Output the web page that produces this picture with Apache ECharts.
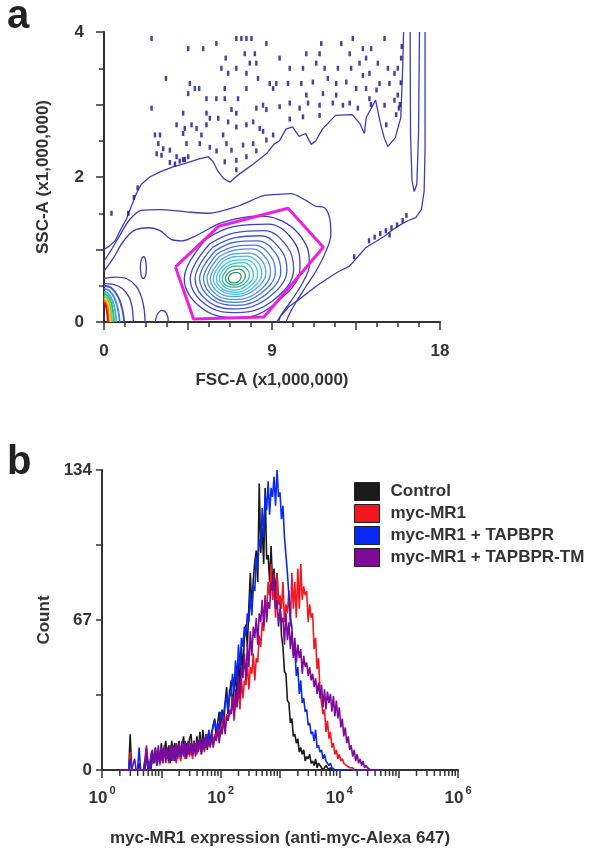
<!DOCTYPE html>
<html><head><meta charset="utf-8">
<script src="https://cdn.jsdelivr.net/npm/echarts@6/dist/echarts.min.js"></script>
<style>html,body{margin:0;padding:0;background:#fff}#c{width:600px;height:852px}</style>
</head><body><div id="c"></div>
<script>
// ---------- Panel a : FSC-A / SSC-A contour plot (units x1,000,000) ----------
const fscTickLabels = [0, 9, 18];
const sscTickLabels = [0, 2, 4];

const outerUpper = [[0,1.0],[0.3,1.05],[0.6,1.12],[0.9,1.28],[1.2,1.42],[1.5,1.62],[1.75,1.78],[2.0,1.9],[2.45,2.0],[3.0,2.07],[3.7,2.14],[4.4,2.19],[5.1,2.25],[5.6,2.28],[5.85,2.21],[6.1,2.08],[6.4,1.98],[6.75,1.93],[7.25,2.04],[8.0,2.18],[8.7,2.32],[9.1,2.45],[9.4,2.5],[9.75,2.66],[10.1,2.69],[10.45,2.56],[10.8,2.6],[11.1,2.45],[11.35,2.5],[11.7,2.66],[12.4,2.85],[13.3,2.86],[13.7,2.74],[13.95,2.6],[14.05,2.82],[14.55,3.06],[14.8,2.75],[15.0,2.55],[15.2,2.42],[15.6,2.54],[15.9,2.82],[16.0,3.5],[16.05,4.0]];
const outerRight = [[17.2,4.0],[17.2,2.4],[17.15,1.8],[17.0,1.55],[16.7,1.44],[16.3,1.4],[16.0,1.36],[15.5,1.28],[15.0,1.18],[14.5,1.1],[14.0,1.02],[13.6,0.9],[13.15,0.77],[12.6,0.7],[12.1,0.62],[11.4,0.5],[10.6,0.34],[9.9,0.21],[9.45,0.08],[9.25,0]];
const rightLoop = [[16.4,4.0],[16.42,2.6],[16.5,1.95],[16.62,1.8],[16.76,1.9],[16.85,2.6],[16.9,4.0]];
const contour2 = [[0,0.84],[0.4,1.0],[0.9,1.22],[1.4,1.42],[2.0,1.54],[3.0,1.55],[4.4,1.52],[5.6,1.5],[7.2,1.6],[8.5,1.74],[9.3,1.76],[10.0,1.77],[10.8,1.68],[11.3,1.6],[11.8,1.58],[12.1,1.42],[12.15,1.2],[11.85,0.95],[11.35,0.7],[10.85,0.5],[10.35,0.3],[9.95,0.12],[9.75,0]];
const contour3 = [[0,0.7],[0.5,0.88],[1.0,1.1],[1.6,1.26],[2.4,1.3],[3.0,1.26],[3.6,1.14],[4.2,1.12],[5.0,1.2],[6.2,1.36],[7.4,1.44],[8.4,1.46],[9.3,1.42],[10.2,1.28],[10.9,1.02],[11.0,0.78],[10.6,0.52],[10.0,0.28],[9.5,0.1],[9.35,0]];
const lowLeft2 = [[0,0.6],[0.6,0.62],[1.2,0.6],[1.7,0.5],[2.0,0.35],[2.15,0.18],[2.2,0]];
const lowLeft1 = [[0,0.53],[0.5,0.52],[1.0,0.46],[1.35,0.34],[1.52,0.18],[1.57,0]];
const smallOval = [[1.95,0.76],[2.0,0.86],[2.12,0.9],[2.24,0.84],[2.27,0.72],[2.2,0.62],[2.08,0.6],[1.98,0.66],[1.95,0.76]];
const smallBump = [[2.75,0],[2.85,0.1],[3.1,0.16],[3.35,0.12],[3.45,0]];
// origin cluster, outer -> inner
const originArcs = [
  [[0,0.5],[0.4,0.47],[0.75,0.35],[0.98,0.18],[1.08,0]],
  [[0,0.46],[0.3,0.43],[0.58,0.32],[0.76,0.16],[0.84,0]],
  [[0,0.42],[0.24,0.39],[0.46,0.29],[0.6,0.15],[0.66,0]],
  [[0,0.39],[0.2,0.36],[0.38,0.27],[0.49,0.13],[0.53,0]],
  [[0,0.36],[0.16,0.33],[0.3,0.25],[0.39,0.12],[0.43,0]],
  [[0,0.33],[0.13,0.3],[0.24,0.22],[0.31,0.11],[0.34,0]],
  [[0,0.3],[0.1,0.27],[0.19,0.2],[0.24,0.1],[0.27,0]],
  [[0,0.27],[0.08,0.24],[0.14,0.17],[0.18,0.09],[0.2,0]]
];
const originColors = ['#4455cc','#4a86dc','#33b8e0','#2dbb8a','#8cc63e','#f2d018','#f47a20','#e0141e'];
// main population, outer -> inner
const mainLevels = [
  [[5.50,1.15],[7.00,1.32],[8.80,1.35],[10.20,1.10],[10.50,0.75],[9.00,0.22],[7.20,0.06],[5.30,0.18],[4.30,0.60]],
  [[5.67,1.08],[6.99,1.23],[8.58,1.26],[9.81,1.04],[10.16,0.73],[9.02,0.29],[7.17,0.13],[5.50,0.23],[4.62,0.60]],
  [[5.82,1.03],[6.99,1.16],[8.39,1.19],[9.49,0.99],[9.80,0.72],[8.78,0.33],[7.15,0.18],[5.66,0.27],[4.88,0.60]],
  [[5.95,0.98],[6.99,1.10],[8.23,1.12],[9.19,0.95],[9.47,0.70],[8.57,0.36],[7.12,0.23],[5.81,0.31],[5.12,0.60]],
  [[6.07,0.94],[6.98,1.04],[8.08,1.06],[8.93,0.91],[9.18,0.69],[8.38,0.39],[7.10,0.27],[5.94,0.34],[5.33,0.60]],
  [[6.17,0.90],[6.98,0.99],[7.95,1.01],[8.71,0.87],[8.92,0.68],[8.22,0.41],[7.09,0.31],[6.06,0.37],[5.52,0.60]],
  [[6.27,0.86],[6.97,0.94],[7.82,0.95],[8.48,0.84],[8.67,0.67],[8.06,0.44],[7.07,0.35],[6.17,0.40],[5.70,0.60]],
  [[6.36,0.83],[6.97,0.90],[7.71,0.91],[8.28,0.81],[8.45,0.66],[7.91,0.46],[7.05,0.38],[6.27,0.43],[5.86,0.60]],
  [[6.44,0.79],[6.97,0.85],[7.60,0.86],[8.09,0.78],[8.23,0.65],[7.77,0.48],[7.04,0.41],[6.37,0.45],[6.02,0.60]],
  [[6.53,0.76],[6.97,0.81],[7.49,0.82],[7.89,0.75],[8.01,0.64],[7.63,0.50],[7.02,0.44],[6.47,0.48],[6.18,0.60]],
  [[6.62,0.73],[6.96,0.77],[7.38,0.77],[7.70,0.72],[7.79,0.64],[7.49,0.52],[7.01,0.48],[6.57,0.50],[6.34,0.60]],
  [[6.70,0.69],[6.96,0.72],[7.27,0.73],[7.50,0.69],[7.57,0.63],[7.35,0.54],[6.99,0.51],[6.67,0.53],[6.50,0.60]],
  [[6.79,0.66],[6.96,0.68],[7.15,0.68],[7.31,0.66],[7.35,0.62],[7.21,0.56],[6.98,0.54],[6.77,0.55],[6.66,0.60]]
];
const mainColors = ['#3b3fbf','#3e4cc8','#4058cf','#4468d6','#4a7bdc','#4f8fe2','#52a3e6','#4db8e8','#3cc6e0','#34c4c8','#33b5a5','#2fa57a','#2a9455'];
const gate = [[3.83,0.76],[6.14,1.32],[9.86,1.57],[11.75,1.03],[8.57,0.07],[4.8,0.04],[3.83,0.76]];
const debrisDots = [[2.55,3.91],[4.51,3.77],[5.31,3.77],[6.02,3.84],[7.09,3.91],[7.36,3.91],[7.63,3.91],[7.9,3.91],[8.7,3.84],[7.54,3.70],[8.08,3.70],[6.52,3.64],[7.81,3.57],[8.16,3.57],[6.29,3.5],[7.09,3.5],[7.63,3.43],[6.65,3.43],[3.32,3.36],[8.25,3.36],[4.6,3.29],[4.87,3.22],[5.1,3.22],[7.63,3.22],[8.88,3.29],[9.06,3.22],[4.51,3.15],[6.47,3.22],[7.18,3.08],[5.49,3.08],[6.02,3.08],[6.47,3.08],[2.55,2.95],[4.24,2.88],[5.49,2.88],[5.67,2.81],[6.12,2.81],[6.83,2.93],[7.09,2.88],[8.16,2.95],[8.52,2.99],[8.7,2.93],[3.89,2.72],[4.33,2.67],[4.69,2.72],[4.96,2.67],[5.49,2.72],[6.65,2.76],[7.09,2.69],[7.63,2.72],[7.99,2.76],[8.34,2.67],[8.52,2.63],[2.73,2.58],[3.0,2.58],
[2.91,2.46],[3.17,2.39],[2.82,2.32],[3.08,2.30],[3.53,2.37],[3.89,2.28],[4.06,2.22],[4.24,2.24],[4.51,2.28],[4.42,2.46],[4.24,2.6],[5.13,2.46],[5.22,2.58],[5.67,2.41],[6.38,2.58],[6.56,2.46],[6.83,2.37],[7.45,2.44],[7.99,2.46],[8.7,2.51],[9.06,2.58],[6.03,2.36],[6.47,2.21],[7.09,2.23],[7.63,2.28],[8.16,2.36],[3.53,2.2],[3.8,2.18],[4.33,2.24],[7.09,2.1],
[11.64,3.84],[12.71,3.84],[13.33,3.91],[13.87,3.77],[14.31,3.77],[15.03,3.91],[10.84,3.7],[11.55,3.7],[13.16,3.7],[14.04,3.64],[14.67,3.57],[9.41,3.64],[9.95,3.5],[10.66,3.5],[11.37,3.57],[11.82,3.5],[12.53,3.5],[13.24,3.5],[13.69,3.57],[14.22,3.43],[15.21,3.5],[15.56,3.43],[15.74,3.5],[15.92,3.64],[9.23,3.29],[9.86,3.29],[10.57,3.29],[11.19,3.31],[11.99,3.36],[12.44,3.29],[13.51,3.22],[14.04,3.22],[14.76,3.29],[15.29,3.29],[15.74,3.13],[9.41,2.97],[9.95,3.02],[10.48,2.95],[10.93,3.02],[11.55,2.99],[12.26,3.02],[12.8,2.99],[13.16,3.02],[13.6,2.95],[14.3,3.0],[14.6,3.2],[15.03,2.99],[15.56,3.06],[9.95,2.8],[10.66,2.83],[11.55,2.85],[15.12,2.72],[15.65,2.86],[15.85,3.0],[14.22,3.08],[13.87,3.4],[12.98,3.31],[12.44,3.13],[10.84,3.13],[11.73,3.15],[15.9,3.3],[15.95,3.8],[15.8,2.95],
[14.2,1.12],[14.5,1.17],[14.8,1.22],[15.1,1.26],[15.4,1.3],[15.7,1.34],[16.0,1.4],[16.2,1.47],[13.4,0.9],[15.3,1.2],[1.6,1.72],[1.8,1.85],[1.3,1.5],[0.4,1.5]];

// ---------- Panel b : histogram (log10 of myc-MR1 expression) ----------
const BIN_START = 0.30, BIN_STEP = 0.025;   // log10 channel of first bin, bin width
const decadeLabels = [0, 2, 4, 6];
const countTicks = [0, 67, 134];
const seriesNames = ['Control', 'myc-MR1', 'myc-MR1 + TAPBPR', 'myc-MR1 + TAPBPR-TM'];
const seriesColors = ['#1a1a1a', '#f4161f', '#0a28f5', '#7d0a99'];
const controlCounts = [
  0,0,0,0,0,0,0,16, 0,0,0,0,0,3,0,0, 0,0,6,0,4,0,7,3, 10,2,9,3,12,4,8,13,
  5,11,3,13,6,12,4,10, 13,5,11,15,6,12,7,14, 16,7,13,8,15,9,17,8, 18,10,15,9,17,11,16,20,
  23,14,21,26,16,27,20,30, 37,25,33,40,28,36,43,31, 48,37,55,44,59,65,55,73, 88,72,85,93,98,84,128,97,
  108,92,126,94,96,84,100,82, 90,78,88,74,76,60,55,44, 43,31,30,21,23,15,16,12, 14,8,10,7,9,4,6,5,
  7,3,4,2,5,1,3,2, 2,0,1,2,1,0,1,0, 0,0,0,0,0,0,0,0, 0,0,0,0,0,0,0,0,
  0,0,0,0,0,0,0,0, 0,0,0,0,0,0,0,0, 0];
const mr1Counts = [
  0,0,0,0,0,0,0,8, 0,0,0,0,0,0,0,0, 0,0,11,0,0,5,3,6, 8,2,8,2,8,3,10,3,
  9,3,7,10,4,10,3,8, 9,4,8,11,5,7,11,6, 10,5,9,12,7,11,13,7, 13,8,12,16,11,13,17,12,
  16,15,21,14,19,19,24,18, 25,23,27,25,33,22,30,28, 37,27,41,32,40,38,48,36, 46,43,52,40,50,48,60,55,
  66,62,76,70,84,78,92,76, 82,68,88,74,78,72,84,66, 74,70,80,64,88,72,84,68, 90,72,92,76,82,78,80,66,
  74,68,70,54,59,45,50,35, 35,25,27,17,22,14,17,10, 12,7,9,5,7,4,5,3, 3,2,2,1,1,1,0,0,
  0,0,0,0,0,0,0,0, 0,0,0,0,0,0,0,0, 0];
const tapbprCounts = [
  0,0,0,0,0,0,0,5, 0,0,0,0,0,10,0,0, 0,0,8,0,3,0,8,5, 7,2,8,3,9,4,10,5,
  9,4,10,5,10,4,9,6, 10,6,12,7,13,6,11,8, 10,7,12,8,12,9,14,8, 14,11,16,10,18,12,17,20,
  22,17,21,18,26,23,25,30, 33,25,36,33,43,35,49,40, 56,45,59,55,64,60,70,66, 79,69,82,80,95,90,103,100,
  117,104,123,116,129,114,126,122, 131,118,134,122,124,112,118,104, 104,88,88,68,64,51,54,42, 46,34,40,30,32,26,27,20,
  21,16,17,13,18,10,11,8, 9,5,7,4,4,2,3,1, 1,0,0,0,0,0,0,0, 0,0,0,0,0,0,0,0,
  0,0,0,0,0,0,0,0, 0,0,0,0,0,0,0,0, 0];
const tapbprTmCounts = [
  0,0,0,0,0,0,0,0, 0,0,5,0,0,0,0,0, 0,0,10,4,0,7,9,3, 10,3,11,4,10,3,11,4,
  10,5,11,4,11,6,12,5, 12,7,13,6,12,5,13,7, 12,7,13,6,13,8,14,7, 14,9,15,10,14,10,16,10,
  15,13,19,12,18,16,23,16, 24,22,26,25,33,24,36,28, 42,32,46,41,52,40,56,46, 62,51,64,59,68,56,70,66,
  76,64,78,66,75,72,84,80, 88,72,76,64,72,66,68,56, 70,58,66,54,62,50,59,48, 56,50,54,43,51,46,48,42,
  46,40,43,37,41,34,39,32, 38,28,36,27,35,30,34,26, 33,24,31,23,28,19,23,15, 19,12,15,9,11,6,9,4,
  7,3,5,2,4,1,2,1, 1,0,0,0,0,0,0,0, 0];

// ---------- build ----------
const FONT = '"Liberation Sans", Arial, Helvetica, sans-serif';
const TXT = '#333';
const binX = i => +(BIN_START + i * BIN_STEP).toFixed(3);
const toPairs = arr => arr.map((v, i) => [binX(i), v]);

const aLine = (data, color, width, smooth, z) => ({
  type: 'line', xAxisIndex: 0, yAxisIndex: 0, data, symbol: 'none', showSymbol: false,
  smooth: smooth || false, lineStyle: { color, width }, silent: true, z: z || 2
});
const closed = pts => pts.concat([pts[0]]);

const series = [];
const blue = '#3d3db8';
[outerUpper, outerRight, rightLoop].forEach(d => series.push(aLine(d, blue, 1.3, false)));
[contour2, contour3, lowLeft2, lowLeft1].forEach(d => series.push(aLine(d, blue, 1.3, 0.3)));
series.push(aLine(smallOval, blue, 1.3, 0.4));
series.push(aLine(smallBump, blue, 1.3, 0.4));
originArcs.forEach((d, i) => series.push(aLine(d, originColors[i], 1.9, 0.4)));
mainLevels.forEach((d, i) => series.push(aLine(closed(d), mainColors[i], 1.3, 0.4)));
series.push({ type: 'scatter', xAxisIndex: 0, yAxisIndex: 0, data: debrisDots, symbol: 'rect',
  symbolSize: [2.5, 5], itemStyle: { color: '#16168a' }, silent: true, z: 3 });
series.push(aLine(gate, '#ee1fe0', 3, false, 6));

// histogram series
[controlCounts, mr1Counts, tapbprCounts, tapbprTmCounts].forEach((arr, i) => series.push({
  name: seriesNames[i], type: 'line', xAxisIndex: 1, yAxisIndex: 1, data: toPairs(arr),
  symbol: 'none', showSymbol: false, lineStyle: { color: seriesColors[i], width: 1.6 },
  itemStyle: { color: seriesColors[i], borderColor: '#222', borderWidth: 1 }, z: 2 + i
}));
// log minor ticks (2..9 within each decade)
const minorPos = [];
for (let d = 0; d < 6; d++) for (let k = 2; k <= 9; k++) minorPos.push([+(d + Math.log10(k)).toFixed(4)]);
series.push({
  type: 'custom', xAxisIndex: 1, yAxisIndex: 1, data: minorPos, clip: false, silent: true, z: 10,
  renderItem: (p, api) => {
    const pt = api.coord([api.value(0), 0]);
    return { type: 'line', shape: { x1: pt[0], y1: pt[1] + 1, x2: pt[0], y2: pt[1] + 6 },
      style: { stroke: '#333', lineWidth: 1.5 } };
  }
});

const lbl = { color: TXT, fontFamily: FONT, fontWeight: 'bold', fontSize: 17 };
const axLine = { show: true, onZero: false, lineStyle: { color: '#333', width: 2 } };

const option = {
  animation: false,
  backgroundColor: '#fff',
  title: [
    { text: 'a', left: 2, top: -8, textStyle: { fontSize: 40, fontWeight: 'bold', color: '#222', fontFamily: FONT } },
    { text: 'b', left: 2, top: 438, textStyle: { fontSize: 40, fontWeight: 'bold', color: '#222', fontFamily: FONT } }
  ],
  grid: [
    { left: 104, top: 32, width: 336, height: 290 },
    { left: 102, top: 470, width: 356, height: 300 }
  ],
  legend: {
    data: seriesNames, orient: 'vertical', left: 349, top: 477, itemWidth: 25, itemHeight: 18, itemGap: 3,
    icon: 'rect', selectedMode: false,
    itemStyle: { borderColor: '#222', borderWidth: 1 },
    textStyle: { color: TXT, fontFamily: FONT, fontWeight: 'bold', fontSize: 17, padding: [0, 0, 0, 6] }
  },
  xAxis: [
    { gridIndex: 0, type: 'value', min: 0, max: 18, interval: 4.5,
      axisLine: axLine,
      axisTick: { show: true, length: 8, lineStyle: { color: '#333', width: 1.5 } },
      minorTick: { show: true, splitNumber: 4, length: 5, lineStyle: { color: '#333', width: 1.5 } },
      splitLine: { show: false },
      axisLabel: Object.assign({ margin: 21, formatter: v => fscTickLabels.includes(v) ? String(v) : '' }, lbl),
      name: 'FSC-A (x1,000,000)', nameLocation: 'middle', nameGap: 50, nameTextStyle: lbl },
    { gridIndex: 1, type: 'value', min: 0, max: 6, interval: 1,
      axisLine: axLine,
      axisTick: { show: true, length: 8, lineStyle: { color: '#333', width: 1.5 } },
      splitLine: { show: false },
      axisLabel: { margin: 15, color: TXT, fontFamily: FONT,
        formatter: v => decadeLabels.includes(v) ? '{b|10}{s|' + v + '}' : '',
        rich: { b: { fontSize: 17, fontWeight: 'bold', color: TXT, fontFamily: FONT, verticalAlign: 'bottom', lineHeight: 22 },
                s: { fontSize: 11, fontWeight: 'bold', color: TXT, fontFamily: FONT, verticalAlign: 'top', padding: [0, 0, 0, 2], lineHeight: 22 } } },
      name: 'myc-MR1 expression (anti-myc-Alexa 647)', nameLocation: 'middle', nameGap: 60, nameTextStyle: lbl }
  ],
  yAxis: [
    { gridIndex: 0, type: 'value', min: 0, max: 4, interval: 1,
      axisLine: axLine,
      axisTick: { show: true, length: 8, lineStyle: { color: '#333', width: 1.5 } },
      minorTick: { show: true, splitNumber: 2, length: 5, lineStyle: { color: '#333', width: 1.5 } },
      splitLine: { show: false },
      axisLabel: Object.assign({ margin: 20, formatter: v => sscTickLabels.includes(v) ? String(v) : '' }, lbl),
      name: 'SSC-A (x1,000,000)', nameLocation: 'middle', nameGap: 52, nameTextStyle: lbl },
    { gridIndex: 1, type: 'value', min: 0, max: 134, interval: 33.5,
      axisLine: axLine,
      axisTick: { show: true, length: 6, lineStyle: { color: '#333', width: 1.5 } },
      splitLine: { show: false },
      axisLabel: Object.assign({ margin: 10, formatter: v => countTicks.includes(v) ? String(v) : '' }, lbl),
      name: 'Count', nameLocation: 'middle', nameGap: 48, nameTextStyle: lbl }
  ],
  series
};
const chart = echarts.init(document.getElementById('c'), null, { renderer: 'canvas' });
chart.setOption(option);
</script></body></html>
